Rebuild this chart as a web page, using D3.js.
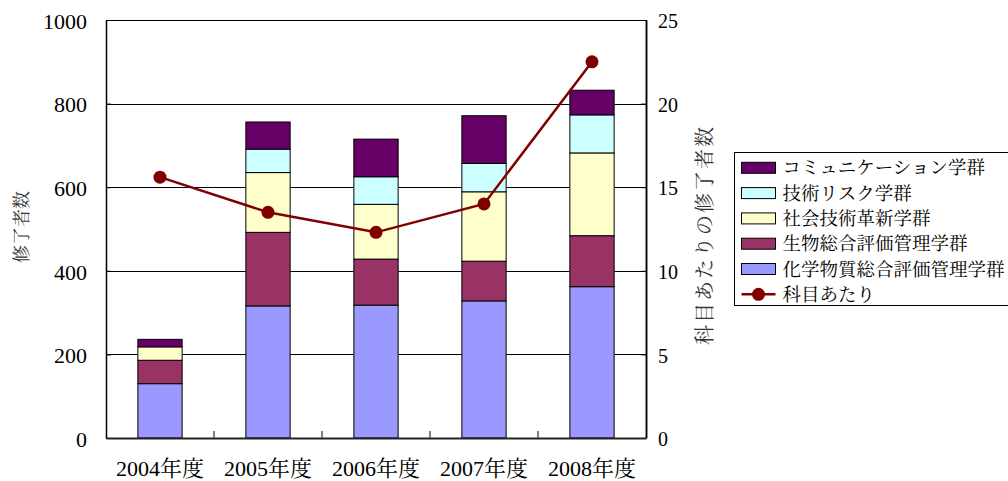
<!DOCTYPE html>
<html>
<head>
<meta charset="utf-8">
<script src="https://cdn.jsdelivr.net/npm/d3@7"></script>
<style>
  html, body { margin: 0; padding: 0; background: #fff; }
  svg { display: block; }
</style>
</head>
<body>
<svg id="chart" width="1008" height="481"></svg>
<script>
// Graduates per year, stacked by program group
const years = ["2004年度", "2005年度", "2006年度", "2007年度", "2008年度"];
const chemical = [130, 316, 318, 328, 362];   // 化学物質総合評価管理学群
const biology  = [56, 176, 110, 95, 122];     // 生物総合評価管理学群
const social   = [32, 143, 131, 166, 198];    // 社会技術革新学群
const risk     = [0, 56, 66, 68, 91];         // 技術リスク学群
const comm     = [18, 65, 90, 114, 59];       // コミュニケーション学群
const perSubject = [15.6, 13.5, 12.3, 14.0, 22.5]; // 科目あたり
const leftTicks = [0, 200, 400, 600, 800, 1000];
const rightTicks = [0, 5, 10, 15, 20, 25];

const seriesNames = ["化学物質総合評価管理学群", "生物総合評価管理学群", "社会技術革新学群", "技術リスク学群", "コミュニケーション学群"];
const seriesColors = ["#9999ff", "#993366", "#ffffcc", "#ccffff", "#660066"];
const seriesValues = [chemical, biology, social, risk, comm];
const lineName = "科目あたり";
const lineColor = "#800000";

const SERIF = "'Liberation Serif', 'Noto Serif CJK JP', serif";
const MINCHO = "'Noto Serif CJK JP', serif";

const svg = d3.select("#chart");
const plot = { left: 106, right: 646, top: 20, bottom: 438 };

const x = d3.scaleBand().domain(years).range([plot.left, plot.right])
  .paddingInner(0.59).paddingOuter(0.295);
const y = d3.scaleLinear().domain([0, 1000]).range([plot.bottom, plot.top]);
const y2 = d3.scaleLinear().domain([0, 25]).range([plot.bottom, plot.top]);

// Build a row table and stack it
const rows = years.map((yr, i) => {
  const r = { year: yr };
  seriesNames.forEach((n, k) => r[n] = seriesValues[k][i]);
  return r;
});
const stacked = d3.stack().keys(seriesNames)(rows);

// Gridlines
svg.append("g")
  .selectAll("line").data(leftTicks.filter(t => t > 0)).join("line")
  .attr("x1", plot.left).attr("x2", plot.right)
  .attr("y1", d => Math.round(y(d)) + 0.5).attr("y2", d => Math.round(y(d)) + 0.5)
  .attr("stroke", "#000").attr("stroke-width", 1);

// Right border of the plot area
svg.append("line")
  .attr("x1", plot.right + 0.5).attr("x2", plot.right + 0.5)
  .attr("y1", plot.top).attr("y2", plot.bottom)
  .attr("stroke", "#000").attr("stroke-width", 1.5);

// Stacked bars
svg.append("g").selectAll("g").data(stacked).join("g")
  .attr("fill", (d, i) => seriesColors[i])
  .selectAll("rect").data(d => d.filter(s => s[1] - s[0] > 0)).join("rect")
  .attr("x", d => x(d.data.year))
  .attr("width", x.bandwidth())
  .attr("y", d => y(d[1]))
  .attr("height", d => y(d[0]) - y(d[1]))
  .attr("stroke", "#000").attr("stroke-width", 1);

// Left axis
const axL = svg.append("g").attr("transform", `translate(${plot.left},0)`)
  .call(d3.axisLeft(y).tickValues(leftTicks).tickFormat(d3.format("d"))
    .tickSizeInner(-5).tickSizeOuter(0).tickPadding(19));
axL.attr("font-family", null).attr("font-size", null);
axL.select(".domain").attr("stroke", "#000").attr("stroke-width", 1.5);
axL.selectAll(".tick line").attr("stroke", "#000");
axL.selectAll("text").style("font-family", SERIF).style("font-size", "22px")
  .attr("fill", "#000").attr("dy", "0.38em");

// Right axis
const axR = svg.append("g").attr("transform", `translate(${plot.right},0)`)
  .call(d3.axisRight(y2).tickValues(rightTicks).tickFormat(d3.format("d"))
    .tickSizeInner(-5).tickSizeOuter(0).tickPadding(12));
axR.attr("font-family", null).attr("font-size", null);
axR.select(".domain").attr("stroke", "#000").attr("stroke-width", 1.5);
axR.selectAll(".tick line").attr("stroke", "#000");
axR.selectAll("text").style("font-family", SERIF).style("font-size", "20px")
  .attr("fill", "#000").attr("dy", "0.38em");

// Bottom axis, ticks on category boundaries
const axB = svg.append("g").attr("transform", `translate(0,${plot.bottom})`)
  .call(d3.axisBottom(x).tickSize(0).tickPadding(22));
axB.attr("font-family", null).attr("font-size", null);
axB.select(".domain").attr("stroke", "#222").attr("stroke-width", 2);
axB.selectAll("text").style("font-family", SERIF).style("font-size", "22px").attr("fill", "#000");
const step = x.step();
axB.append("g").selectAll("line").data(years.slice(1)).join("line")
  .attr("x1", d => x(d) - (step - x.bandwidth()) / 2)
  .attr("x2", d => x(d) - (step - x.bandwidth()) / 2)
  .attr("y1", 0).attr("y2", -7)
  .attr("stroke", "#555").attr("stroke-width", 1.5);

// Per-subject line
const cx = i => x(years[i]) + x.bandwidth() / 2;
svg.append("path")
  .datum(perSubject)
  .attr("fill", "none").attr("stroke", lineColor).attr("stroke-width", 2.5)
  .attr("d", d3.line().x((d, i) => cx(i)).y(d => y2(d)));
svg.append("g").selectAll("circle").data(perSubject).join("circle")
  .attr("cx", (d, i) => cx(i)).attr("cy", d => y2(d)).attr("r", 6.5)
  .attr("fill", lineColor);

// Axis titles
svg.append("text").style("font-family", MINCHO)
  .attr("transform", "translate(22,227) rotate(-90)")
  .attr("text-anchor", "middle").attr("dy", "0.35em")
  .style("font-size", "18px").attr("fill", "#333").text("修了者数");
svg.append("text").style("font-family", MINCHO)
  .attr("transform", "translate(705,235) rotate(-90)")
  .attr("text-anchor", "middle").attr("dy", "0.35em")
  .style("font-size", "20px").attr("letter-spacing", 2).attr("fill", "#333").text("科目あたりの修了者数");

// Legend
const legend = svg.append("g").attr("transform", "translate(734.5,152.5)");
legend.append("rect").attr("width", 300).attr("height", 153)
  .attr("fill", "#fff").attr("stroke", "#000").attr("stroke-width", 1);
const legendItems = seriesNames.map((n, i) => ({ name: n, color: seriesColors[i] })).reverse();
const rowY = i => 15.3 + i * 25.3;
const li = legend.selectAll("g.item").data(legendItems).join("g").attr("class", "item")
  .attr("transform", (d, i) => `translate(0,${rowY(i)})`);
li.append("rect").attr("x", 7).attr("y", -5.5).attr("width", 34).attr("height", 11)
  .attr("fill", d => d.color).attr("stroke", "#000").attr("stroke-width", 1);
li.append("text").style("font-family", MINCHO).attr("x", 48).attr("dy", "0.36em")
  .style("font-size", "18.5px").attr("fill", "#000").text(d => d.name);
const ll = legend.append("g").attr("transform", `translate(0,${rowY(5)})`);
ll.append("line").attr("x1", 7).attr("x2", 41).attr("stroke", lineColor).attr("stroke-width", 2.5);
ll.append("circle").attr("cx", 24).attr("r", 6.5).attr("fill", lineColor);
ll.append("text").style("font-family", MINCHO).attr("x", 48).attr("dy", "0.36em")
  .style("font-size", "18.5px").attr("fill", "#000").text(lineName);
</script>
</body>
</html>
